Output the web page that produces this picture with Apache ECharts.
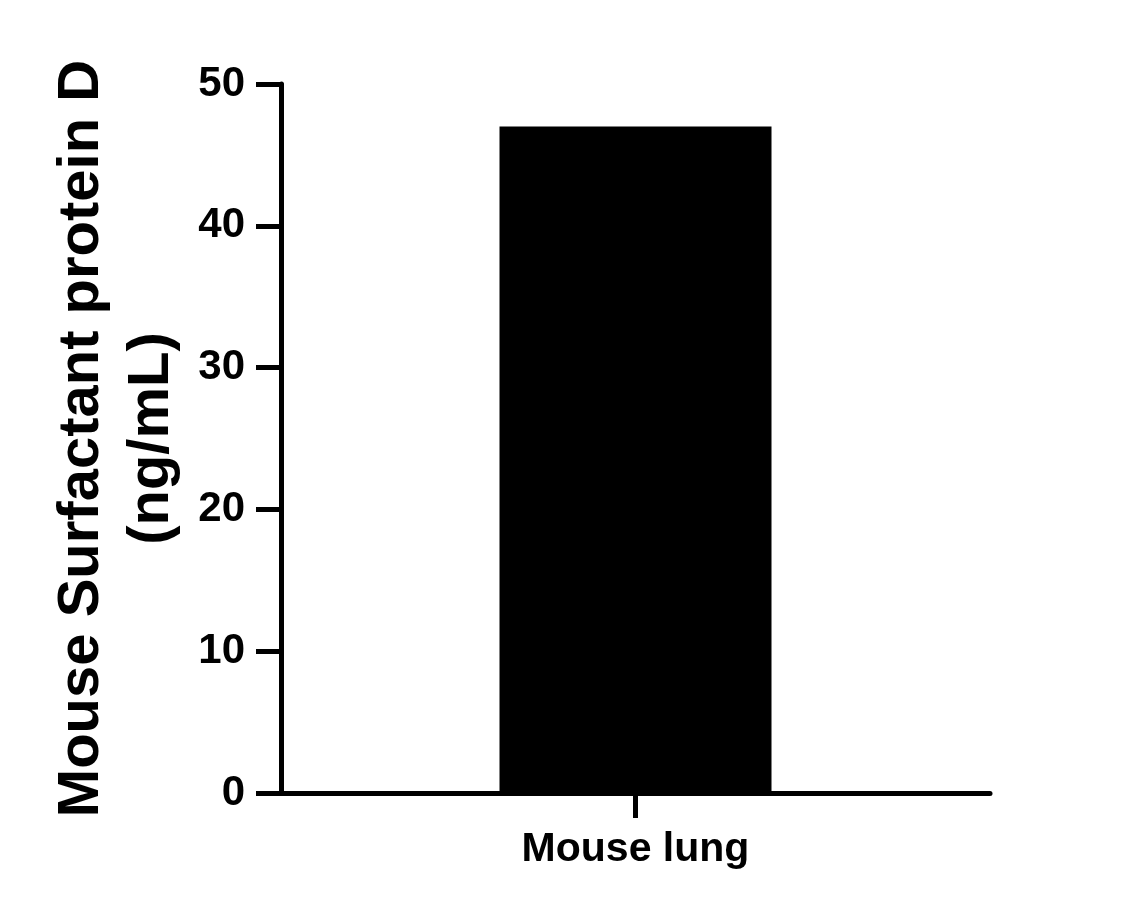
<!DOCTYPE html>
<html>
<head>
<meta charset="utf-8">
<script src="https://cdn.jsdelivr.net/npm/echarts@6/dist/echarts.min.js"></script>
<style>
  html, body { margin: 0; padding: 0; background: #fff; }
  #chart { width: 1123px; height: 910px; }
</style>
</head>
<body>
<div id="chart"></div>
<script>
// data
const categories = ['Mouse lung'];
const values = [47];
const yTicks = { min: 0, max: 50, interval: 10 };
const yTitle = 'Mouse Surfactant protein D\n(ng/mL)';

const font = 'Liberation Sans, Arial, sans-serif';
const axisLine = { show: true, lineStyle: { color: '#000', width: 5 } };
const axisTick = { show: true, length: 25, lineStyle: { color: '#000', width: 5 } };

const myChart = echarts.init(document.getElementById('chart'));
const option = {
  animation: false,
  backgroundColor: '#fff',
  grid: { left: 281, right: 133, top: 84, bottom: 117, containLabel: false },
  xAxis: {
    type: 'category',
    data: categories,
    axisLine: axisLine,
    axisTick: Object.assign({ alignWithLabel: true }, axisTick),
    axisLabel: { color: '#000', fontFamily: font, fontWeight: 'bold', fontSize: 41, margin: 36 },
  },
  yAxis: {
    type: 'value',
    min: yTicks.min,
    max: yTicks.max,
    interval: yTicks.interval,
    splitLine: { show: false },
    axisLine: axisLine,
    axisTick: axisTick,
    axisLabel: { color: '#000', fontFamily: font, fontWeight: 'bold', fontSize: 42, margin: 36 },
    name: yTitle,
    nameLocation: 'middle',
    nameGap: 90,
    nameTextStyle: { color: '#000', fontFamily: font, fontWeight: 'bold', fontSize: 58, lineHeight: 70 },
  },
  series: [{
    type: 'bar',
    data: values,
    barWidth: 272,
    itemStyle: { color: '#000' },
  }],
};
myChart.setOption(option);
</script>
</body>
</html>
